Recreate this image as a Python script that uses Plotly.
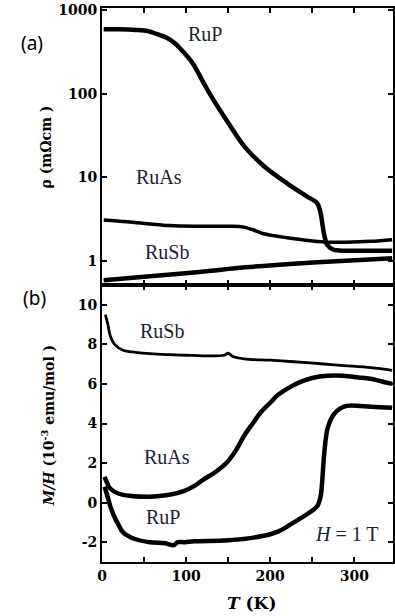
import plotly.graph_objects as go
from plotly.subplots import make_subplots

# ---- Data ----
# Panel (a): resistivity rho (mOhm cm) vs T (K), log scale
T_rho_RuP = [2, 20, 40, 55, 65, 77, 87, 96, 108, 120, 130, 150, 170, 193, 220, 244, 256, 260, 264, 268, 274, 285, 310, 345]
rho_RuP = [590, 590, 580, 560, 520, 467, 400, 323, 230, 140, 93, 45, 23, 13.5, 8.5, 5.9, 4.9, 3.7, 2.1, 1.55, 1.38, 1.33, 1.33, 1.33]

T_rho_RuAs = [2, 30, 60, 80, 110, 150, 168, 180, 190, 205, 220, 248, 268, 290, 320, 345]
rho_RuAs = [3.1, 2.95, 2.75, 2.65, 2.6, 2.6, 2.55, 2.35, 2.15, 2.0, 1.9, 1.75, 1.68, 1.68, 1.72, 1.8]

T_rho_RuSb = [2, 50, 116, 170, 228, 290, 345]
rho_RuSb = [0.59, 0.65, 0.74, 0.84, 0.93, 1.01, 1.08]

# Panel (b): M/H (1e-3 emu/mol) vs T (K)
T_mh_RuSb = [4, 7, 10, 15, 25, 40, 57, 80, 100, 120, 145, 150, 155, 169, 200, 228, 260, 287, 320, 345]
mh_RuSb = [9.5, 9.0, 8.4, 8.0, 7.7, 7.6, 7.53, 7.48, 7.45, 7.42, 7.45, 7.55, 7.4, 7.27, 7.2, 7.12, 7.02, 6.93, 6.82, 6.68]

T_mh_RuAs = [3, 6, 10, 20, 35, 57, 80, 98, 110, 120, 135, 149, 160, 169, 180, 189, 200, 208, 222, 236, 250, 268, 287, 305, 319, 335, 345]
mh_RuAs = [1.3, 1.0, 0.7, 0.45, 0.34, 0.3, 0.4, 0.6, 0.85, 1.15, 1.55, 2.05, 2.7, 3.38, 4.05, 4.58, 5.05, 5.4, 5.8, 6.1, 6.3, 6.41, 6.41, 6.33, 6.26, 6.1, 6.0]

T_mh_RuP = [3, 6, 10, 14, 20, 25, 40, 57, 75, 85, 90, 98, 110, 150, 189, 210, 228, 245, 256, 260, 262, 264, 266, 268, 272, 276, 283, 291, 320, 345]
mh_RuP = [0.8, 0.4, -0.2, -0.65, -1.15, -1.5, -1.85, -2.0, -2.05, -2.15, -2.0, -2.0, -1.95, -1.9, -1.7, -1.45, -1.0, -0.55, -0.17, 0.34, 1.2, 2.37, 3.2, 3.72, 4.2, 4.48, 4.75, 4.89, 4.85, 4.79]

x_ticks = [0, 100, 200, 300]
rho_ticks = [1, 10, 100, 1000]
mh_ticks = [-2, 0, 2, 4, 6, 8, 10]


def bold(vals):
    return ["<b>%s</b>" % v for v in vals]


fig = make_subplots(rows=2, cols=1, shared_xaxes=True, vertical_spacing=0)

line_kw = dict(color="black", width=4.5)
fig.add_trace(go.Scatter(x=T_rho_RuP, y=rho_RuP, mode="lines", line=line_kw, line_shape="spline"), row=1, col=1)
fig.add_trace(go.Scatter(x=T_rho_RuAs, y=rho_RuAs, mode="lines", line=dict(color="black", width=3.5), line_shape="spline"), row=1, col=1)
fig.add_trace(go.Scatter(x=T_rho_RuSb, y=rho_RuSb, mode="lines", line=line_kw, line_shape="spline"), row=1, col=1)

fig.add_trace(go.Scatter(x=T_mh_RuSb, y=mh_RuSb, mode="lines", line=dict(color="black", width=2.8), line_shape="spline"), row=2, col=1)
fig.add_trace(go.Scatter(x=T_mh_RuAs, y=mh_RuAs, mode="lines", line=line_kw, line_shape="spline"), row=2, col=1)
fig.add_trace(go.Scatter(x=T_mh_RuP, y=mh_RuP, mode="lines", line=line_kw, line_shape="spline"), row=2, col=1)

tickfont = dict(family="DejaVu Serif", size=14, color="black")
axis_common = dict(showline=True, linecolor="black", linewidth=2, ticks="inside", ticklen=5,
                   tickwidth=1.5, tickcolor="black", showgrid=False, zeroline=False, tickfont=tickfont)

fig.update_xaxes(range=[0, 346], tickvals=x_ticks, ticktext=bold(x_ticks), mirror="ticks",
                 minor=dict(tickvals=[50, 150, 250], ticks="inside", ticklen=5, tickwidth=1.5, tickcolor="black"),
                 **axis_common)
fig.update_xaxes(showticklabels=False, row=1, col=1)

fig.update_yaxes(type="log", range=[-0.287, 3.026], tickvals=rho_ticks, ticktext=bold(rho_ticks),
                 mirror="ticks", row=1, col=1, **axis_common)
fig.update_yaxes(range=[-3, 11], tickvals=mh_ticks, ticktext=bold(mh_ticks), mirror="ticks", row=2, col=1, **axis_common)

lab = dict(family="Liberation Serif", size=20, color="#1c2236")
ann = [
    dict(x=122, y=2.71, xref="x", yref="y", text="RuP"),
    dict(x=68, y=1.0, xref="x", yref="y", text="RuAs"),
    dict(x=77, y=0.11, xref="x", yref="y", text="RuSb"),
    dict(x=71, y=8.7, xref="x2", yref="y2", text="RuSb"),
    dict(x=77, y=2.3, xref="x2", yref="y2", text="RuAs"),
    dict(x=72, y=-0.75, xref="x2", yref="y2", text="RuP"),
    dict(x=291, y=-1.6, xref="x2", yref="y2", text="<i>H</i> = 1 T"),
]
for a in ann:
    fig.add_annotation(showarrow=False, font=lab, xanchor="center", yanchor="middle", **a)

panel_font = dict(family="Noto Sans", size=19, color="black")
fig.add_annotation(x=-0.239, y=0.937, xref="paper", yref="paper", text="(a)", showarrow=False,
                   xanchor="center", yanchor="middle", font=panel_font)
fig.add_annotation(x=-0.232, y=0.476, xref="paper", yref="paper", text="(b)", showarrow=False,
                   xanchor="center", yanchor="middle", font=panel_font)

title_font = dict(family="DejaVu Serif", size=14, color="black", weight="bold")
fig.add_annotation(x=-0.191, y=0.749, xref="paper", yref="paper", textangle=-90, showarrow=False,
                   xanchor="center", yanchor="middle", text="<b>ρ (mΩcm )</b>", font=title_font)
fig.add_annotation(x=-0.185, y=0.247, xref="paper", yref="paper", textangle=-90, showarrow=False,
                   xanchor="center", yanchor="middle",
                   text="<b><i>M/H</i> (10<sup>-3</sup> emu/mol )</b>", font=title_font)
fig.add_annotation(x=0.515, y=-0.074, xref="paper", yref="paper", showarrow=False,
                   xanchor="center", yanchor="middle",
                   text="<b><i>T</i> (K)</b>", font=dict(family="DejaVu Serif", size=17, color="black"))

fig.update_layout(width=395, height=616, margin=dict(l=102, r=0, t=8, b=54),
                  paper_bgcolor="white", plot_bgcolor="white", showlegend=False)

fig.write_html("out.html")
